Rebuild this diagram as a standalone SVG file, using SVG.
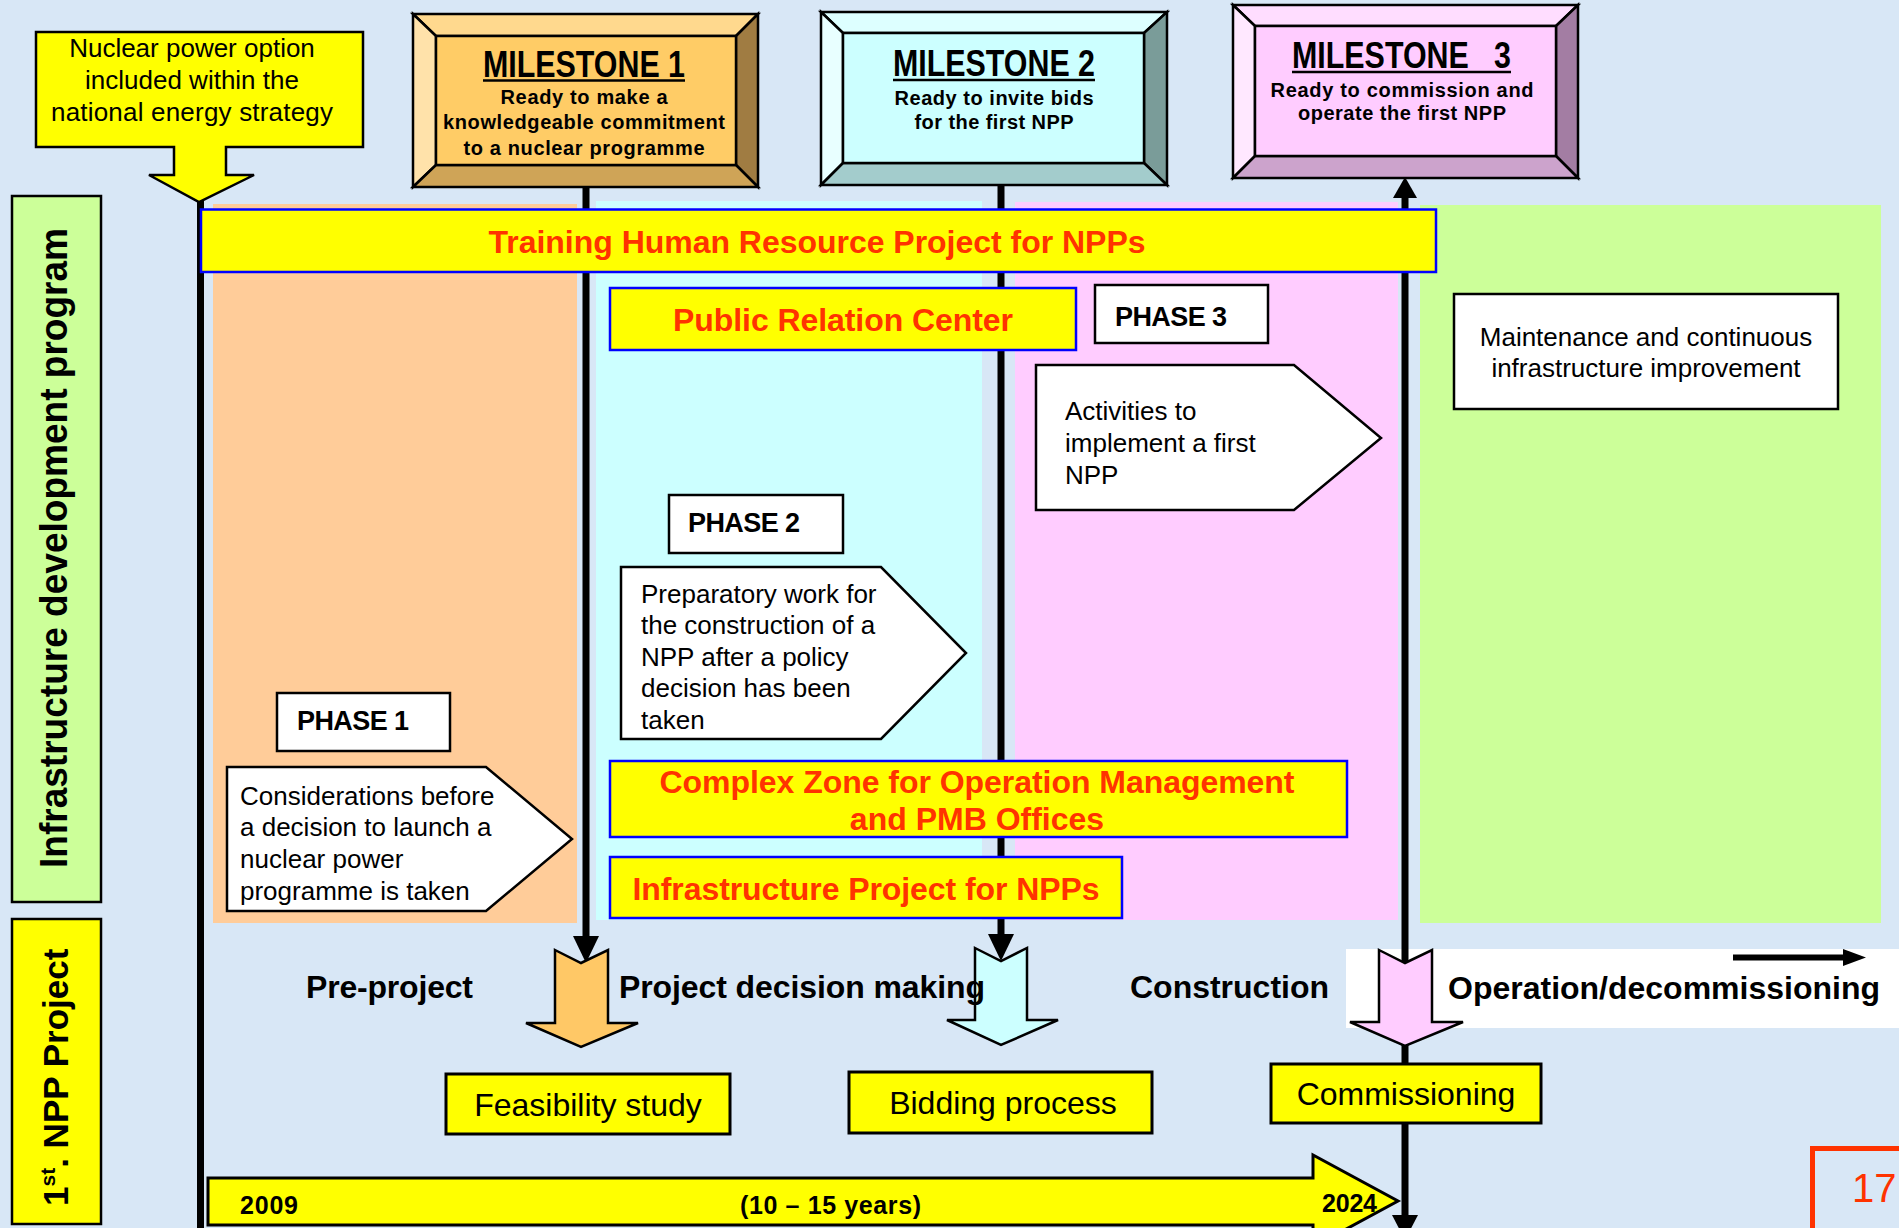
<svg xmlns="http://www.w3.org/2000/svg" width="1899" height="1228" viewBox="0 0 1899 1228">
<style>
text{font-family:"Liberation Sans",Arial,sans-serif;fill:#000}
.red{font-weight:bold;font-size:32px;fill:#FF3300}
.yb{fill:#FFFF00;stroke:#0000FF;stroke-width:2.5}
.yk{fill:#FFFF00;stroke:#000;stroke-width:3}
.wb{fill:#FFFFFF;stroke:#000;stroke-width:2.5}
.bev{stroke:#000;stroke-width:2.5;stroke-linejoin:miter}
.reg{font-size:26px}
.phase{font-weight:bold;font-size:27px}
.mt{font-family:"Liberation Sans Narrow","Liberation Sans",Arial,sans-serif;font-weight:bold;font-size:37px}
.ms{font-weight:bold;font-size:20px}
.lane{font-weight:bold;font-size:32px}
.b32{font-size:32px}
.vl{font-weight:bold;font-size:38px}
.ln{stroke:#000;stroke-width:7;fill:none}
.ul{stroke:#000;stroke-width:2.5}
.yr{font-weight:bold;font-size:25px}
</style>
<rect x="0" y="0" width="1899" height="1228" fill="#D8E7F6"/>

<g id="phase-columns">
<rect x="213" y="204" width="364" height="719" fill="#FFCC99"/>
<rect x="596" y="201" width="386" height="719" fill="#CCFFFF"/>
<rect x="1015" y="202" width="383" height="718" fill="#FFCCFF"/>
<rect x="1420" y="205" width="461" height="718" fill="#CCFF99"/>
<rect x="1346" y="949" width="553" height="79" fill="#FFFFFF"/>
</g>

<g id="connectors">
<line class="ln" x1="200.5" y1="200" x2="200.5" y2="1228"/>
<line class="ln" x1="586" y1="187" x2="586" y2="940"/>
<polygon points="573,936 599,936 586,963" fill="#000"/>
<line class="ln" x1="1001" y1="185" x2="1001" y2="938"/>
<polygon points="988,934 1014,934 1001,961" fill="#000"/>
<line class="ln" x1="1405" y1="194" x2="1405" y2="1220"/>
<polygon points="1393,198 1417,198 1405,177" fill="#000"/>
<polygon points="1392,1215 1418,1215 1405,1240" fill="#000"/>
<line x1="1733" y1="957.5" x2="1846" y2="957.5" stroke="#000" stroke-width="6"/>
<polygon points="1843,949 1866,957.5 1843,966" fill="#000"/>
</g>

<g id="nuclear-option">
<path d="M36,32 H363 V147 H226 V175 H254 L199,202 L149,175 H174 V147 H36 Z" fill="#FFFF00" stroke="#000" stroke-width="2.5" stroke-linejoin="miter"/>
<text class="reg" x="192" y="57" text-anchor="middle">Nuclear power option</text>
<text class="reg" x="192" y="89" text-anchor="middle">included within the</text>
<text class="reg" x="192" y="121" text-anchor="middle" textLength="282">national energy strategy</text>
</g>

<g id="milestone-1">
<polygon class="bev" points="413,14 758,14 736,36 436,36" fill="#FFD98E"/>
<polygon class="bev" points="413,14 436,36 436,165 413,187" fill="#FFE2AA"/>
<polygon class="bev" points="758,14 758,187 736,165 736,36" fill="#A07C42"/>
<polygon class="bev" points="413,187 436,165 736,165 758,187" fill="#CFA457"/>
<rect class="bev" x="436" y="36" width="300" height="129" fill="#FFCC66"/>
<text class="mt" x="584" y="77" text-anchor="middle" textLength="202" lengthAdjust="spacingAndGlyphs">MILESTONE 1</text>
<line class="ul" x1="483" y1="80.5" x2="685" y2="80.5"/>
<text class="ms" x="584" y="104" text-anchor="middle" textLength="167">Ready to make a</text>
<text class="ms" x="584" y="129" text-anchor="middle" textLength="282">knowledgeable commitment</text>
<text class="ms" x="584" y="155" text-anchor="middle" textLength="241">to a nuclear programme</text>
</g>

<g id="milestone-2">
<polygon class="bev" points="821,12 1167,12 1144,33 843,33" fill="#DDFFFF"/>
<polygon class="bev" points="821,12 843,33 843,163 821,185" fill="#E8FFFF"/>
<polygon class="bev" points="1167,12 1167,185 1144,163 1144,33" fill="#7A9C99"/>
<polygon class="bev" points="821,185 843,163 1144,163 1167,185" fill="#A3CCCC"/>
<rect class="bev" x="843" y="33" width="301" height="130" fill="#CCFFFF"/>
<text class="mt" x="994" y="76" text-anchor="middle" textLength="202" lengthAdjust="spacingAndGlyphs">MILESTONE 2</text>
<line class="ul" x1="893" y1="80" x2="1095" y2="80"/>
<text class="ms" x="994" y="105" text-anchor="middle" textLength="199">Ready to invite bids</text>
<text class="ms" x="994" y="129" text-anchor="middle" textLength="159">for the first NPP</text>
</g>

<g id="milestone-3">
<polygon class="bev" points="1233,5 1578,5 1556,26 1255,26" fill="#FFDDFF"/>
<polygon class="bev" points="1233,5 1255,26 1255,156 1233,178" fill="#FFE8FF"/>
<polygon class="bev" points="1578,5 1578,178 1556,156 1556,26" fill="#A37DA3"/>
<polygon class="bev" points="1233,178 1255,156 1556,156 1578,178" fill="#CCA3CC"/>
<rect class="bev" x="1255" y="26" width="301" height="130" fill="#FFCCFF"/>
<text class="mt" x="1292" y="68" xml:space="preserve" style="white-space:pre" textLength="219" lengthAdjust="spacingAndGlyphs">MILESTONE   3</text>
<line class="ul" x1="1292" y1="72" x2="1511" y2="72"/>
<text class="ms" x="1402" y="97" text-anchor="middle" textLength="263">Ready to commission and</text>
<text class="ms" x="1402" y="120" text-anchor="middle" textLength="208">operate the first NPP</text>
</g>

<g id="label-infrastructure">
<rect x="12" y="196" width="89" height="706" fill="#CCFF99" stroke="#000" stroke-width="2.5"/>
<text class="vl" transform="translate(67,548) rotate(-90)" text-anchor="middle" textLength="640" lengthAdjust="spacingAndGlyphs">Infrastructure development program</text>
</g>

<g id="label-npp-project">
<rect x="12" y="919" width="89" height="305" fill="#FFFF00" stroke="#000" stroke-width="2.5"/>
<text class="vl" transform="translate(68,1206) rotate(-90)" font-size="35" style="font-size:35px">1<tspan style="font-size:21px" dy="-13">st</tspan><tspan dy="13">. NPP Project</tspan></text>
</g>

<g id="training-bar">
<rect class="yb" x="201" y="209.5" width="1235" height="62.5"/>
<text class="red" x="817" y="253" text-anchor="middle" textLength="657">Training Human Resource Project for NPPs</text>
</g>

<g id="public-relation">
<rect class="yb" x="610" y="288" width="466" height="62"/>
<text class="red" x="843" y="331" text-anchor="middle" textLength="340">Public Relation Center</text>
</g>

<g id="phase-3">
<rect class="wb" x="1095" y="285" width="173" height="58"/>
<text class="phase" x="1115" y="326" textLength="112">PHASE 3</text>
</g>

<g id="activities">
<polygon class="wb" points="1036,365 1294,365 1381,438 1294,510 1036,510"/>
<text class="reg" x="1065" y="420">Activities to</text>
<text class="reg" x="1065" y="452">implement a first</text>
<text class="reg" x="1065" y="484">NPP</text>
</g>

<g id="maintenance">
<rect class="wb" x="1454" y="294" width="384" height="115"/>
<text class="reg" x="1646" y="346" text-anchor="middle">Maintenance and continuous</text>
<text class="reg" x="1646" y="377" text-anchor="middle">infrastructure improvement</text>
</g>

<g id="phase-2">
<rect class="wb" x="669" y="495" width="174" height="58"/>
<text class="phase" x="688" y="532" textLength="112">PHASE 2</text>
</g>

<g id="preparatory">
<polygon class="wb" points="621,567 881,567 966,653 881,739 621,739"/>
<text class="reg" x="641" y="603">Preparatory work for</text>
<text class="reg" x="641" y="634">the construction of a</text>
<text class="reg" x="641" y="666">NPP after a policy</text>
<text class="reg" x="641" y="697">decision has been</text>
<text class="reg" x="641" y="729">taken</text>
</g>

<g id="phase-1">
<rect class="wb" x="277" y="693" width="173" height="58"/>
<text class="phase" x="297" y="730" textLength="112">PHASE 1</text>
</g>

<g id="considerations">
<polygon class="wb" points="227,767 486,767 572,839 486,911 227,911"/>
<text class="reg" x="240" y="805">Considerations before</text>
<text class="reg" x="240" y="836">a decision to launch a</text>
<text class="reg" x="240" y="868">nuclear power</text>
<text class="reg" x="240" y="900">programme is taken</text>
</g>

<g id="complex-zone">
<rect class="yb" x="610" y="761" width="737" height="76"/>
<text class="red" x="977" y="793" text-anchor="middle" textLength="635">Complex Zone for Operation Management</text>
<text class="red" x="977" y="830" text-anchor="middle">and PMB Offices</text>
</g>

<g id="infrastructure-project">
<rect class="yb" x="610" y="857" width="512" height="61"/>
<text class="red" x="866" y="900" text-anchor="middle" textLength="467">Infrastructure Project for NPPs</text>
</g>

<g id="arrow-preproject">
<path d="M555,950 L581,963 L608,950 V1023 H638 L581,1047 L526,1023 H555 Z" fill="#FFC866" stroke="#000" stroke-width="2.5"/>
</g>
<g id="arrow-decision">
<path d="M975,948 L1001,961 L1027,948 V1020 H1058 L1001,1045 L947,1020 H975 Z" fill="#CCFFFF" stroke="#000" stroke-width="2.5"/>
</g>
<g id="arrow-construction">
<path d="M1379,950 L1405,963 L1432,950 V1022 H1463 L1405,1046 L1350,1022 H1379 Z" fill="#FFCCFF" stroke="#000" stroke-width="2.5"/>
</g>

<g id="stage-labels">
<text class="lane" x="306" y="998" textLength="167">Pre-project</text>
<text class="lane" x="619" y="998" textLength="366">Project decision making</text>
<text class="lane" x="1130" y="998" textLength="199">Construction</text>
<text class="lane" x="1448" y="999" textLength="432">Operation/decommissioning</text>
</g>

<g id="feasibility">
<rect class="yk" x="446" y="1074" width="284" height="60"/>
<text class="b32" x="588" y="1116" text-anchor="middle">Feasibility study</text>
</g>

<g id="bidding">
<rect class="yk" x="849" y="1072" width="303" height="61"/>
<text class="b32" x="1003" y="1114" text-anchor="middle">Bidding process</text>
</g>

<g id="commissioning">
<rect class="yk" x="1271" y="1064" width="270" height="59"/>
<text class="b32" x="1406" y="1105" text-anchor="middle">Commissioning</text>
</g>

<g id="timeline">
<path d="M208,1178 H1313 V1155 L1398,1201 L1313,1247 V1225 H208 Z" fill="#FFFF00" stroke="#000" stroke-width="3"/>
<text class="yr" x="240" y="1214" textLength="58">2009</text>
<text class="yr" x="740" y="1214" textLength="181">(10 – 15 years)</text>
<text class="yr" x="1322" y="1212" textLength="55">2024</text>
</g>

<g id="page-number">
<rect x="1812.5" y="1148.5" width="120" height="120" fill="none" stroke="#FF3300" stroke-width="5"/>
<text x="1852" y="1202" font-size="40" style="fill:#FF3300">17</text>
</g>
</svg>
